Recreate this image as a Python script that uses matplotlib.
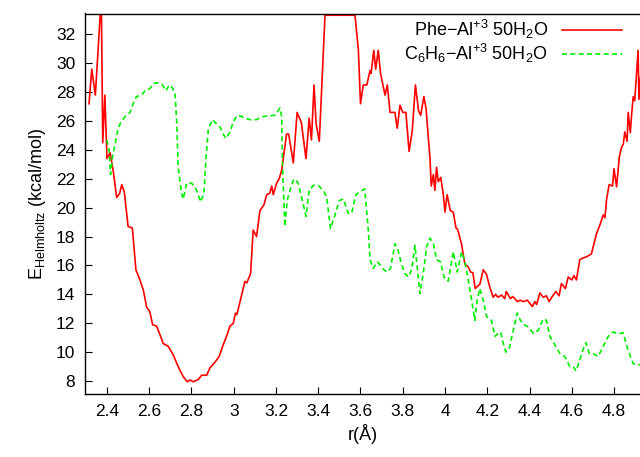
import matplotlib
matplotlib.use('Agg')
import matplotlib.pyplot as plt
import numpy as np

plt.rcParams['font.family'] = ['Liberation Sans', 'DejaVu Sans']
plt.rcParams['mathtext.fontset'] = 'custom'
plt.rcParams['mathtext.rm'] = 'Liberation Sans'
plt.rcParams['mathtext.it'] = 'Liberation Sans:italic'

# Phe-Al+3 50H2O (red, solid); 33.33 = clipped at the top of the frame
phe_r = [2.315, 2.328, 2.345, 2.368, 2.374, 2.38, 2.39, 2.40, 2.415, 2.43, 2.446, 2.46, 2.47, 2.482,
         2.50, 2.52, 2.537, 2.556, 2.572, 2.588, 2.603, 2.616, 2.635, 2.651, 2.666, 2.69, 2.714,
         2.737, 2.761, 2.78, 2.793, 2.808, 2.832, 2.848, 2.872, 2.887, 2.911, 2.931, 2.95, 2.966,
         2.982, 2.998, 3.008, 3.015, 3.037, 3.053, 3.062, 3.08, 3.092, 3.108, 3.124, 3.143, 3.156,
         3.17, 3.18, 3.187, 3.203, 3.215, 3.227, 3.25, 3.26, 3.282, 3.30, 3.32, 3.342, 3.357,
         3.368, 3.38, 3.39, 3.405, 3.432, 3.574, 3.59, 3.60, 3.613, 3.63, 3.645, 3.65, 3.663,
         3.672, 3.684, 3.695, 3.716, 3.727, 3.74, 3.763, 3.774, 3.787, 3.80, 3.815, 3.83, 3.845,
         3.86, 3.875, 3.885, 3.90, 3.91, 3.929, 3.935, 3.945, 3.952, 3.96, 3.968, 3.98, 3.992,
         4.0, 4.01, 4.025, 4.039, 4.052, 4.06, 4.078, 4.094, 4.11, 4.121, 4.132, 4.143, 4.157,
         4.165, 4.181, 4.196, 4.212, 4.228, 4.24, 4.25, 4.268, 4.283, 4.29, 4.31, 4.32, 4.331,
         4.342, 4.355, 4.37, 4.39, 4.40, 4.414, 4.425, 4.434, 4.449, 4.465, 4.48, 4.493, 4.51,
         4.525, 4.54, 4.551, 4.57, 4.583, 4.60, 4.61, 4.622, 4.638, 4.65, 4.67, 4.693, 4.717,
         4.733, 4.749, 4.757, 4.765, 4.777, 4.793, 4.80, 4.812, 4.825, 4.836, 4.844, 4.851,
         4.862, 4.867, 4.877, 4.883, 4.891, 4.898, 4.906, 4.914, 4.918, 4.925]
phe_E = [27.2, 29.6, 27.8, 33.33, 33.33, 24.5, 27.8, 23.4, 23.8, 22.5, 20.7, 21.0, 21.6, 21.1,
         18.7, 18.6, 15.7, 15.0, 14.3, 13.1, 12.8, 11.9, 11.8, 11.2, 10.6, 10.4, 9.8,
         9.0, 8.3, 7.95, 8.07, 7.95, 8.1, 8.4, 8.4, 8.9, 9.3, 9.7, 10.5, 11.1,
         11.8, 12.0, 12.7, 12.6, 13.95, 14.9, 14.8, 15.45, 18.45, 18.0, 19.8, 20.2, 20.9,
         21.0, 21.5, 20.9, 21.7, 22.0, 22.6, 25.1, 25.1, 23.1, 26.6, 25.9, 23.4, 26.2,
         24.7, 28.5, 25.8, 24.6, 33.33, 33.33, 30.9, 27.2, 28.5, 28.5, 29.5, 29.3, 30.9,
         29.6, 30.9, 29.3, 27.8, 28.5, 26.6, 26.6, 25.5, 27.1, 26.6, 26.6, 23.9, 25.3,
         28.5, 26.7, 26.4, 27.7, 26.9, 23.4, 21.5, 22.3, 21.2, 22.8, 21.8, 22.1, 20.9,
         19.7, 20.9, 19.8, 19.7, 18.6, 18.5, 17.5, 16.1, 15.9, 15.55, 15.5, 14.4, 14.6,
         14.7, 15.7, 15.4, 14.5, 13.8, 14.0, 13.8, 13.95, 13.7, 14.2, 13.7, 13.85, 13.7,
         13.5, 13.6, 13.5, 13.6, 13.4, 13.15, 13.5, 13.3, 14.1, 13.8, 13.9, 13.5, 13.9,
         14.2, 13.9, 14.75, 14.4, 15.2, 15.0, 15.3, 15.0, 16.4, 16.5, 16.6, 16.8, 18.2,
         18.8, 19.5, 19.3, 20.6, 21.6, 21.5, 22.7, 21.45, 23.5, 24.2, 24.4, 25.25,
         24.6, 26.6, 25.2, 26.4, 27.7, 27.4, 29.1, 30.9, 27.5, 29.0]

# C6H6-Al+3 50H2O (green, dashed)
bz_r = [2.399, 2.41, 2.417, 2.426, 2.437, 2.453, 2.465, 2.485, 2.509, 2.524, 2.54, 2.564, 2.58,
        2.603, 2.62, 2.643, 2.663, 2.679, 2.695, 2.71, 2.722, 2.73, 2.737, 2.753, 2.761, 2.777,
        2.80, 2.816, 2.83, 2.843, 2.859, 2.868, 2.88, 2.90, 2.919, 2.935, 2.95, 2.963, 2.982,
        2.998, 3.016, 3.033, 3.053, 3.077, 3.108, 3.132, 3.155, 3.195, 3.219, 3.227, 3.231,
        3.242, 3.253, 3.266, 3.282, 3.29, 3.305, 3.321, 3.342, 3.357, 3.377, 3.40, 3.424, 3.44,
        3.458, 3.474, 3.50, 3.519, 3.542, 3.558, 3.578, 3.597, 3.62, 3.637, 3.645, 3.66, 3.68,
        3.695, 3.711, 3.727, 3.742, 3.763, 3.779, 3.794, 3.81, 3.826, 3.842, 3.858, 3.881,
        3.897, 3.913, 3.929, 3.945, 3.96, 3.979, 3.995, 4.015, 4.039, 4.058, 4.079, 4.094,
        4.11, 4.126, 4.141, 4.152, 4.165, 4.181, 4.197, 4.22, 4.236, 4.263, 4.276, 4.288,
        4.304, 4.323, 4.342, 4.357, 4.373, 4.394, 4.418, 4.441, 4.465, 4.48, 4.496, 4.52,
        4.544, 4.567, 4.591, 4.607, 4.62, 4.636, 4.651, 4.667, 4.683, 4.70, 4.725, 4.749,
        4.773, 4.797, 4.82, 4.843, 4.867, 4.891, 4.925]
bz_E = [24.7, 24.0, 22.3, 23.5, 24.3, 25.5, 25.9, 26.3, 26.6, 27.2, 27.7, 27.8, 28.1,
        28.25, 28.6, 28.65, 28.5, 28.1, 28.5, 28.3, 27.9, 26.0, 22.8, 21.0, 20.6, 21.7,
        21.7, 21.45, 21.0, 20.4, 21.0, 23.3, 25.5, 26.1, 25.8, 25.6, 25.1, 24.8, 25.25,
        25.95, 26.4, 26.35, 26.2, 26.1, 26.1, 26.3, 26.35, 26.4, 26.9, 26.3, 22.8,
        18.7, 20.5, 21.2, 21.9, 22.0, 21.7, 20.75, 19.4, 21.2, 21.55, 21.55, 21.2, 20.75,
        18.55, 19.25, 20.5, 20.6, 19.6, 19.6, 20.9, 21.1, 21.3, 18.45, 16.4, 15.8, 16.25,
        16.0, 15.7, 15.55, 15.8, 17.5, 17.0, 16.1, 15.45, 15.2, 15.7, 17.4, 14.05,
        15.45, 17.3, 17.9, 17.5, 16.4, 16.25, 15.2, 14.9, 16.95, 15.55, 16.95, 16.25,
        15.0, 13.6, 12.2, 13.6, 14.4, 13.6, 12.45, 12.2, 11.1, 11.4, 10.6, 10.0,
        10.25, 11.5, 12.7, 12.2, 11.9, 11.75, 11.3, 11.5, 12.3, 12.2, 11.1, 10.5,
        9.9, 9.7, 9.0, 9.0, 8.7, 9.35, 10.1, 10.65, 9.9, 9.9, 9.7, 10.4,
        11.1, 11.4, 11.25, 11.35, 10.1, 9.2, 9.1]

fig = plt.figure(figsize=(6.4, 4.57), dpi=100)
ax = fig.add_axes([85/640, 1-394/457, 1-85/640, (394-13.5)/457])

ax.plot(phe_r, phe_E, color='#ff0000', lw=1.2,
        label='Phe\u2212Al$^{+3}$ 50H$_2$O')
ax.plot(bz_r, bz_E, color='#00ee00', lw=1.2, dashes=(3, 2),
        label='C$_6$H$_6$\u2212Al$^{+3}$ 50H$_2$O')

ax.set_xlim(2.296, 4.923)
ax.set_ylim(7.1, 33.45)
ax.set_xticks(np.arange(2.4, 4.81, 0.2))
ax.set_xticklabels(['%g' % round(v, 1) for v in np.arange(2.4, 4.81, 0.2)])
ax.set_yticks(np.arange(8, 33, 2))
ax.tick_params(direction='in', length=5, width=0.8, labelsize=12.5, pad=7)
ax.spines['right'].set_visible(False)
for s in ['top', 'left', 'bottom']:
    ax.spines[s].set_linewidth(1.0)

ax.set_xlabel('r(Å)', fontsize=13)
ax.set_ylabel('E$_{\\mathrm{Helmholtz}}$ (kcal/mol)', fontsize=13, labelpad=6)

ax.legend(loc='upper right', bbox_to_anchor=(622/640, 1-18/457),
          bbox_transform=fig.transFigure, markerfirst=False, frameon=False,
          fontsize=13, handlelength=3.3, handletextpad=0.8, labelspacing=0.05,
          borderpad=0, borderaxespad=0)

fig.savefig('out.png', dpi=100)
